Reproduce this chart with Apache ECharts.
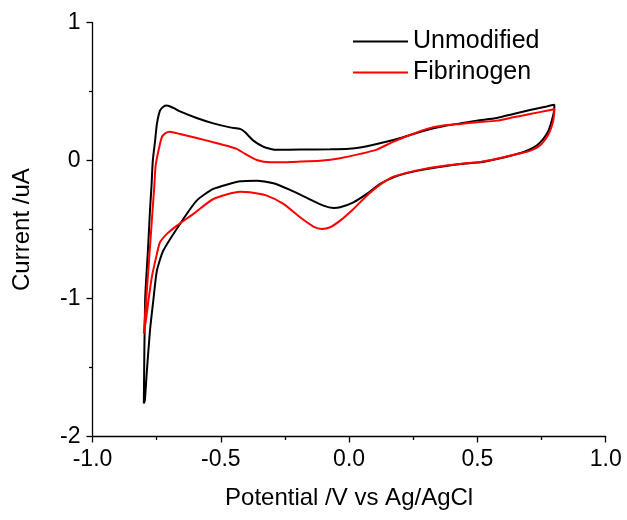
<!DOCTYPE html>
<html>
<head>
<meta charset="utf-8">
<script src="https://cdn.jsdelivr.net/npm/echarts@6/dist/echarts.min.js"></script>
<style>
html,body{margin:0;padding:0;background:#fff;}
#chart{width:627px;height:520px;}
</style>
</head>
<body>
<div id="chart"></div>
<script>
// Unmodified electrode CV loop (anodic sweep then cathodic sweep)
var unmodifiedX = [-0.80,-0.795,-0.784,-0.776,-0.770,-0.765,-0.756,-0.749,-0.737,-0.724,-0.710,-0.685,-0.659,-0.594,-0.529,-0.464,-0.425,-0.405,-0.373,-0.334,-0.282,-0.191,-0.074,0,0.043,0.108,0.173,0.238,0.303,0.367,0.433,0.498,0.576,0.640,0.705,0.770,0.80,
  0.799,0.790,0.777,0.757,0.731,0.693,0.640,0.576,0.511,0.433,0.303,0.238,0.173,0.121,0.069,0.017,-0.035,-0.061,-0.100,-0.165,-0.230,-0.295,-0.360,-0.425,-0.529,-0.594,-0.659,-0.724,-0.749,-0.763,-0.776,-0.788,-0.796,-0.80];
var unmodifiedY = [-1.76,-1.014,-0.652,-0.362,-0.181,0,0.145,0.266,0.362,0.391,0.399,0.382,0.357,0.309,0.270,0.241,0.230,0.205,0.145,0.101,0.078,0.080,0.083,0.087,0.096,0.121,0.150,0.186,0.222,0.249,0.270,0.290,0.309,0.338,0.367,0.393,0.406,
  0.362,0.290,0.217,0.157,0.109,0.072,0.041,0.012,-0.012,-0.024,-0.060,-0.085,-0.121,-0.169,-0.241,-0.302,-0.338,-0.343,-0.326,-0.270,-0.212,-0.164,-0.145,-0.150,-0.205,-0.290,-0.459,-0.652,-0.797,-1.014,-1.232,-1.522,-1.739,-1.76];

// Fibrinogen-modified electrode CV loop
var fibrinogenX = [-0.80,-0.791,-0.777,-0.766,-0.759,-0.754,-0.743,-0.730,-0.717,-0.698,-0.659,-0.594,-0.529,-0.464,-0.438,-0.405,-0.360,-0.308,-0.269,-0.191,-0.113,-0.035,0.043,0.108,0.173,0.238,0.303,0.367,0.433,0.498,0.576,0.640,0.705,0.770,0.80,
  0.799,0.794,0.781,0.761,0.738,0.699,0.640,0.576,0.511,0.433,0.303,0.173,0.121,0.069,0.017,-0.035,-0.074,-0.106,-0.139,-0.191,-0.256,-0.321,-0.386,-0.425,-0.529,-0.607,-0.671,-0.710,-0.737,-0.749,-0.769,-0.782,-0.791,-0.80];
var fibrinogenY = [-1.254,-1.014,-0.652,-0.362,-0.181,-0.036,0.072,0.169,0.198,0.210,0.193,0.164,0.133,0.101,0.085,0.049,0.005,-0.012,-0.012,-0.007,0,0.018,0.049,0.080,0.138,0.186,0.230,0.254,0.266,0.278,0.290,0.314,0.338,0.362,0.375,
  0.338,0.278,0.205,0.145,0.101,0.067,0.041,0.014,-0.009,-0.024,-0.056,-0.116,-0.174,-0.254,-0.350,-0.435,-0.483,-0.495,-0.478,-0.411,-0.314,-0.254,-0.230,-0.225,-0.278,-0.386,-0.471,-0.531,-0.592,-0.676,-0.846,-1.014,-1.145,-1.254];

var seriesNames = ['Unmodified', 'Fibrinogen'];
var xTicks = [-1.0, -0.5, 0.0, 0.5, 1.0];
var yTicks = [-2, -1, 0, 1];

function zip(xs, ys) { return xs.map(function (x, i) { return [x, ys[i]]; }); }

var FONT = '"Liberation Sans", Arial, Helvetica, sans-serif';
var chart = echarts.init(document.getElementById('chart'), null, {renderer: 'canvas'});
var axisCommon = {
  type: 'value',
  axisLine: {show: true, onZero: false, lineStyle: {color: '#000', width: 1.3}},
  axisTick: {show: true, inside: false, length: 6, lineStyle: {color: '#000', width: 1.3}},
  minorTick: {show: true, splitNumber: 2, length: 3.5, lineStyle: {color: '#000', width: 1.3}},
  splitLine: {show: false},
  minorSplitLine: {show: false},
  nameLocation: 'middle',
  nameTextStyle: {color: '#000', fontSize: 24, fontFamily: FONT}
};
chart.setOption({
  animation: false,
  backgroundColor: '#fff',
  grid: {left: 92.5, right: 21.3, top: 22.7, bottom: 83.5, containLabel: false},
  legend: {
    orient: 'vertical', left: 348, top: 24,
    icon: 'rect', itemWidth: 55, itemHeight: 2, itemGap: 6,
    textStyle: {color: '#000', fontSize: 25, fontFamily: FONT, lineHeight: 25},
    data: seriesNames
  },
  xAxis: Object.assign({}, axisCommon, {
    min: xTicks[0], max: xTicks[xTicks.length - 1], interval: 0.5,
    name: 'Potential /V vs Ag/AgCl', nameGap: 50,
    axisLabel: {color: '#000', fontSize: 23, fontFamily: FONT, margin: 12,
      formatter: function (v) { return v.toFixed(1); }}
  }),
  yAxis: Object.assign({}, axisCommon, {
    min: yTicks[0], max: yTicks[yTicks.length - 1], interval: 1,
    name: 'Current /uA', nameGap: 58,
    axisLabel: {color: '#000', fontSize: 23, fontFamily: FONT, margin: 12,
      formatter: function (v) { return String(v); }}
  }),
  series: [
    {name: seriesNames[0], type: 'line', data: zip(unmodifiedX, unmodifiedY), showSymbol: false, symbol: 'none',
      smooth: 0.2, lineStyle: {color: '#000', width: 2}, itemStyle: {color: '#000'}},
    {name: seriesNames[1], type: 'line', data: zip(fibrinogenX, fibrinogenY), showSymbol: false, symbol: 'none',
      smooth: 0.2, lineStyle: {color: '#ff0000', width: 2}, itemStyle: {color: '#ff0000'}}
  ]
});
</script>
</body>
</html>
